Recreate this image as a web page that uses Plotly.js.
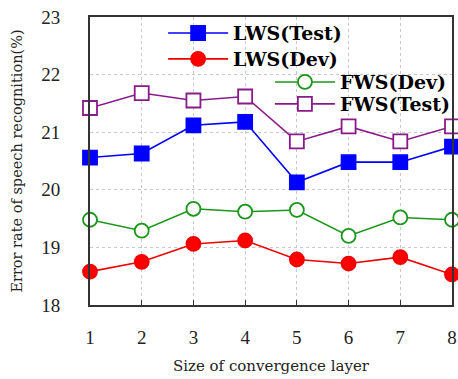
<!DOCTYPE html>
<html><head><meta charset="utf-8">
<script src="https://cdn.plot.ly/plotly-3.0.1.min.js"></script>
<style>html,body{margin:0;padding:0;background:#fff}#c{width:458px;height:379px}</style>
</head><body><div id="c"></div>
<script>
const layers = [1, 2, 3, 4, 5, 6, 7, 8];
const lwsTest = [20.56, 20.63, 21.12, 21.18, 20.13, 20.48, 20.48, 20.75];
const lwsDev = [18.58, 18.75, 19.06, 19.12, 18.79, 18.72, 18.83, 18.53];
const fwsDev = [19.48, 19.29, 19.67, 19.62, 19.65, 19.20, 19.52, 19.48];
const fwsTest = [21.42, 21.68, 21.55, 21.62, 20.84, 21.10, 20.84, 21.10];
const yTicks = [18, 19, 20, 21, 22, 23];

const serif = "Liberation Serif, Times New Roman, serif";
const wide = "DejaVu Serif, serif";
function tr(name, y, color, symbol, fill, legend) {
  return {
    x: layers, y: y, name: name, type: 'scatter', mode: 'lines+markers',
    line: {color: color, width: 1.6},
    marker: {symbol: symbol, size: 14, color: fill, line: {color: color, width: 1.8}},
    cliponaxis: false, legend: legend
  };
}
const data = [
  tr('LWS(Test)', lwsTest, '#0000ff', 'square', '#0000ff', 'legend'),
  tr('LWS(Dev)', lwsDev, '#ee0000', 'circle', '#ff0000', 'legend2'),
  tr('FWS(Dev)', fwsDev, '#1a961a', 'circle', '#ffffff', 'legend3'),
  tr('FWS(Test)', fwsTest, '#8a1a8a', 'square', '#ffffff', 'legend4')
];
const legFont = {family: wide, size: 19, color: '#000', weight: 'bold'};
function leg(x, y) {
  return {x: x, y: y, xanchor: 'left', yanchor: 'middle', bgcolor: 'rgba(0,0,0,0)',
    font: legFont, itemwidth: 60, tracegroupgap: 0, borderwidth: 0};
}
const layout = {
  width: 458, height: 379,
  margin: {l: 90, r: 6, t: 17, b: 74, autoexpand: false},
  paper_bgcolor: '#fff', plot_bgcolor: '#fff',
  font: {family: serif, color: '#000'},
  showlegend: true,
  legend: leg(0.202, 0.944),
  legend2: leg(0.202, 0.854),
  legend3: leg(0.497, 0.774),
  legend4: leg(0.497, 0.698),
  xaxis: {
    range: [1, 8], tickvals: layers, ticktext: layers.map(String),
    showgrid: true, gridcolor: '#c8c8c8', griddash: 'dot', gridwidth: 1,
    showline: true, linecolor: '#333', linewidth: 2, mirror: true,
    ticks: 'inside', ticklen: 5, tickcolor: '#333', ticklabelstandoff: 14,
    tickfont: {family: serif, size: 19, color: '#222'}, zeroline: false,
    title: {text: 'Size of convergence layer', font: {family: wide, size: 15, color: '#222'}, standoff: 14}
  },
  yaxis: {
    range: [18, 23], tickvals: yTicks,
    showgrid: true, gridcolor: '#c8c8c8', griddash: 'dot', gridwidth: 1,
    showline: true, linecolor: '#333', linewidth: 2, mirror: true,
    ticks: '', ticklabelstandoff: 24,
    tickfont: {family: serif, size: 19, color: '#222'}, zeroline: false,
    title: {text: 'Error rate of speech recognition(%)', font: {family: wide, size: 14.5, color: '#222'}, standoff: 15}
  }
};
Plotly.newPlot('c', data, layout, {displayModeBar: false, staticPlot: true});
</script></body></html>
